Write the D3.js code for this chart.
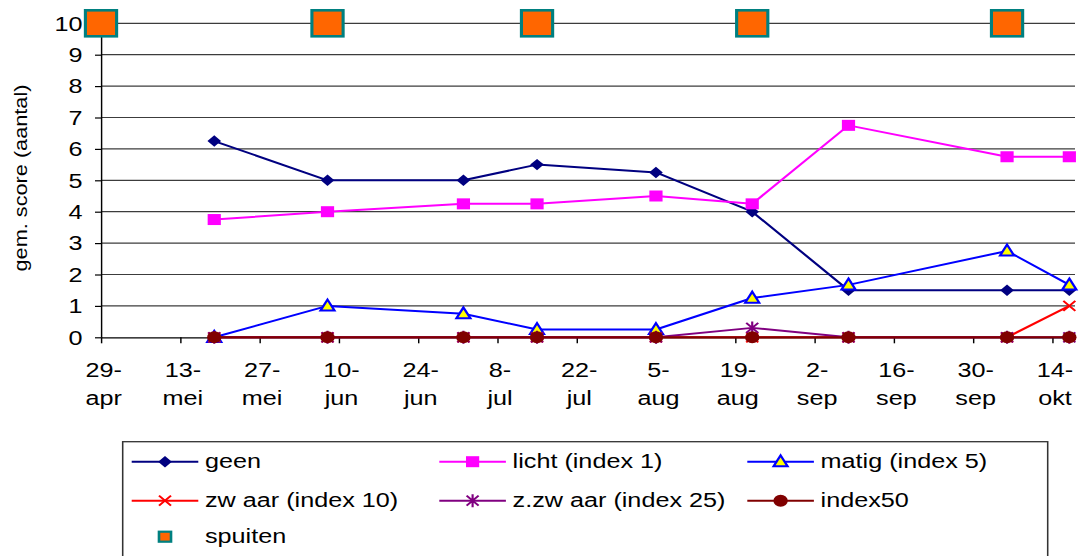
<!DOCTYPE html>
<html><head><meta charset="utf-8">
<script src="https://cdn.jsdelivr.net/npm/d3@7"></script>
<style>html,body{margin:0;padding:0;background:#fff;}svg{display:block;}</style>
</head><body>
<script>
// ---- data ----
const dates   = ["2003-05-19","2003-06-08","2003-07-02","2003-07-15","2003-08-05","2003-08-22","2003-09-08","2003-10-06","2003-10-17"];
const geen    = [6.25, 5, 5, 5.5, 5.25, 4, 1.5, 1.5, 1.5];
const licht   = [3.75, 4, 4.25, 4.25, 4.5, 4.25, 6.75, 5.75, 5.75];
const matig   = [0, 1, 0.75, 0.25, 0.25, 1.25, 1.67, 2.75, 1.67];
const zwaar   = [0, 0, 0, 0, 0, 0, 0, 0, 1];
const zzwaar  = [0, 0, 0, 0, 0, 0.3, 0, 0, 0];
const index50 = [0, 0, 0, 0, 0, 0, 0, 0, 0];
const spuitDates  = ["2003-04-29","2003-06-08","2003-07-15","2003-08-22","2003-10-06"];
const spuitValues = [10, 10, 10, 10, 10];
const tickDates  = ["2003-04-29","2003-05-13","2003-05-27","2003-06-10","2003-06-24","2003-07-08","2003-07-22","2003-08-05","2003-08-19","2003-09-02","2003-09-16","2003-09-30","2003-10-14"];
const tickTop    = ["29-","13-","27-","10-","24-","8-","22-","5-","19-","2-","16-","30-","14-"];
const tickBottom = ["apr","mei","mei","jun","jun","jul","jul","aug","aug","sep","sep","sep","okt"];
const yTicks = [0,1,2,3,4,5,6,7,8,9,10];
const xDomain = ["2003-04-29","2003-10-18"];
const seriesNames = ["geen","licht (index 1)","matig (index 5)","zw aar (index 10)","z.zw aar (index 25)","index50","spuiten"];

// ---- layout ----
const S = 1.2;               // horizontal stretch of the original picture
const X = v => v / S;
const parse = d3.utcParse("%Y-%m-%d");
const FONT = "'Liberation Sans', Arial, sans-serif";

const svg = d3.select("body").append("svg").attr("width",1080).attr("height",556)
  .style("font-family", FONT);
svg.append("rect").attr("width",1080).attr("height",556).attr("fill","#fff");
const root = svg.append("g").attr("transform",`scale(${S},1)`);

const x = d3.scaleUtc().domain(xDomain.map(parse)).range([X(101), X(1075)]);
const y = d3.scaleLinear().domain([0,10]).range([337.3, 23.3]);

// gridlines
root.append("g").selectAll("line").data(yTicks.filter(v=>v>0)).join("line")
  .attr("x1", x.range()[0]).attr("x2", x.range()[1])
  .attr("y1", d=>y(d)).attr("y2", d=>y(d))
  .attr("stroke","#3c3c3c").attr("stroke-width",1.2);

// y axis
const gy = root.append("g").attr("transform",`translate(${X(101)},0)`)
  .call(d3.axisLeft(y).tickValues(yTicks).tickSize(5).tickSizeOuter(0).tickPadding(10.5));
gy.selectAll("text").attr("font-size",21).attr("font-family",FONT).attr("fill","#000");
gy.selectAll("line,path").attr("stroke","#000").attr("stroke-width",1.2);

// x axis
const gx = root.append("g").attr("transform",`translate(0,${y(0)})`)
  .call(d3.axisBottom(x).tickValues(tickDates.map(parse)).tickSize(6).tickSizeOuter(0).tickFormat(""));
gx.selectAll("line,path").attr("stroke","#000").attr("stroke-width",1.2);
gx.selectAll(".tick").each(function(d,i){
  const t = d3.select(this).select("text");
  t.text(null).attr("y",null).attr("dy",null).attr("font-size",21).attr("font-family",FONT).attr("fill","#000");
  t.append("tspan").attr("x",X(2)).attr("y",39.7).text(tickTop[i]);
  t.append("tspan").attr("x",X(2)).attr("y",67.7).text(tickBottom[i]);
});

// y title (unscaled)
svg.append("text").attr("transform","translate(27,178) rotate(-90)")
  .attr("text-anchor","middle").attr("font-size",19)
  .attr("textLength",187).attr("lengthAdjust","spacingAndGlyphs")
  .text("gem. score (aantal)");

// markers
function marker(g, type, cx, cy, big){
  const m = g.append("g").attr("transform",`translate(${cx},${cy})`);
  if(type==="diamond") m.append("path").attr("d","M0,-5.7L5.7,0L0,5.7L-5.7,0Z").attr("fill","#000080");
  if(type==="square") m.append("rect").attr("x",-5.5).attr("y",-5.5).attr("width",11).attr("height",11).attr("fill","#ff00ff");
  if(type==="triangle") m.append("path").attr("d","M0,-6.3L5.8,4.6L-5.8,4.6Z").attr("fill","#ffff00").attr("stroke","#0000ff").attr("stroke-width",2).attr("stroke-linejoin","miter");
  if(type==="x") m.append("path").attr("d","M-5,-5L5,5M-5,5L5,-5").attr("stroke","#ff0000").attr("stroke-width",1.8).attr("fill","none");
  if(type==="star") m.append("path").attr("d","M-5,-5L5,5M-5,5L5,-5M0,-6.5L0,6.5").attr("stroke","#800080").attr("stroke-width",1.8).attr("fill","none");
  if(type==="circle") m.append("circle").attr("r",6).attr("fill","#800000");
  if(type==="spuit"){
    const s = big ? 26 : 10;
    m.append("rect").attr("x",-s/2).attr("y",-s/2).attr("width",s).attr("height",s)
      .attr("fill","#ff6600").attr("stroke","#008080").attr("stroke-width",big?2.6:2.2);
  }
}

const series = [
  {name:seriesNames[0], vals:geen,    color:"#000080", m:"diamond"},
  {name:seriesNames[1], vals:licht,   color:"#ff00ff", m:"square"},
  {name:seriesNames[2], vals:matig,   color:"#0000ff", m:"triangle"},
  {name:seriesNames[3], vals:zwaar,   color:"#ff0000", m:"x"},
  {name:seriesNames[4], vals:zzwaar,  color:"#800080", m:"star"},
  {name:seriesNames[5], vals:index50, color:"#800000", m:"circle"}
];
const line = d3.line().x(d=>x(d.date)).y(d=>y(d.v));
const plot = root.append("g");
series.forEach(s=>{
  const pts = dates.map((d,i)=>({date:parse(d), v:s.vals[i]}));
  const g = plot.append("g");
  g.append("path").attr("d",line(pts)).attr("fill","none").attr("stroke",s.color).attr("stroke-width",2).attr("stroke-linejoin","round");
  pts.forEach(p=>marker(g, s.m, x(p.date), y(p.v)));
});
const gs = plot.append("g");
spuitDates.forEach((d,i)=>marker(gs,"spuit",x(parse(d)),y(spuitValues[i]),true));

// legend
const lg = root.append("g");
lg.append("rect").attr("x",X(122.7)).attr("y",441.7).attr("width",X(1047.7-122.7)).attr("height",200)
  .attr("fill","#fff").attr("stroke","#333").attr("stroke-width",1.3);
const colX = [131.7, 439.3, 747.3];
const rowY = [461.7, 500.7, 536.7];
const legendItems = series.map(s=>({name:s.name,color:s.color,m:s.m})).concat([{name:seriesNames[6],color:null,m:"spuit"}]);
legendItems.forEach((it,i)=>{
  const cx = colX[i%3], cy = rowY[Math.floor(i/3)];
  const g = lg.append("g");
  if(it.color) g.append("line").attr("x1",X(cx)).attr("x2",X(cx+66.6)).attr("y1",cy).attr("y2",cy)
      .attr("stroke",it.color).attr("stroke-width",2);
  marker(g, it.m, X(cx+33.3), cy, false);
  g.append("text").attr("x",X(cx+73.3)).attr("y",cy+6.8).attr("font-size",21).attr("fill","#000").text(it.name);
});
</script>
</body></html>
